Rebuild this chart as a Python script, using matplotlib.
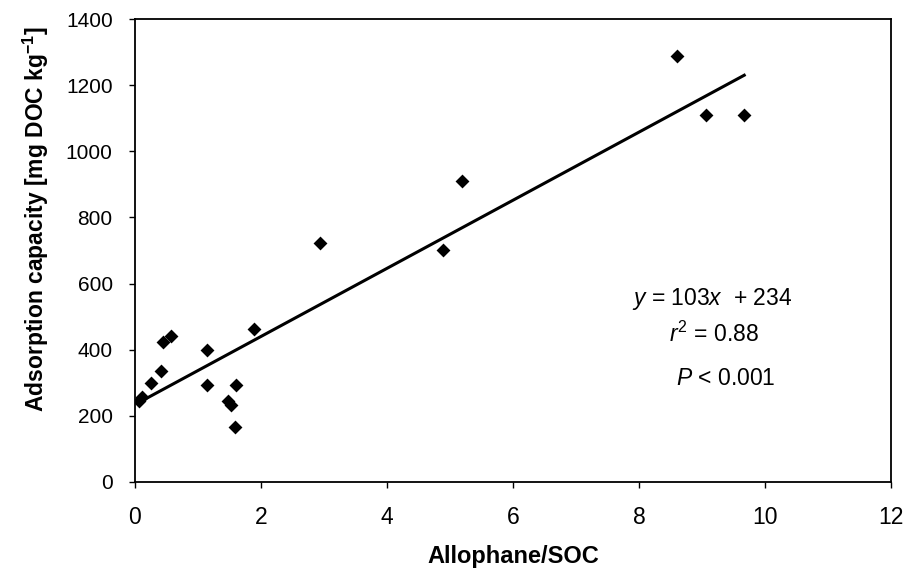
import matplotlib
matplotlib.use("Agg")
import matplotlib.pyplot as plt
import numpy as np

plt.rcParams['font.family'] = ['Liberation Sans', 'DejaVu Sans']
plt.rcParams['mathtext.fontset'] = 'custom'
plt.rcParams['mathtext.rm'] = 'Liberation Sans'
plt.rcParams['mathtext.it'] = 'Liberation Sans:italic'
plt.rcParams['mathtext.bf'] = 'Liberation Sans:bold'

# allophane/SOC ratio vs adsorption capacity (mg DOC / kg)
ratio = [0.06, 0.11, 0.25, 0.42, 0.44, 0.57, 1.15, 1.15, 1.47, 1.52, 1.60, 1.58,
         1.89, 2.94, 4.89, 5.19, 8.60, 9.06, 9.67]
capacity = [245, 256, 298, 336, 424, 442, 399, 293, 245, 232, 293, 165,
            462, 724, 701, 911, 1289, 1110, 1110]

slope = 103
intercept = 234

xticks = [0, 2, 4, 6, 8, 10, 12]
yticks = [0, 200, 400, 600, 800, 1000, 1200, 1400]

fig = plt.figure(figsize=(9.07, 5.71), dpi=100)
ax = fig.add_axes([0.1488, 0.1559, 0.8336, 0.8108])

ax.scatter(ratio, capacity, marker='D', s=50, color='black', zorder=3, linewidths=0)

xfit = np.array([min(ratio), max(ratio)])
ax.plot(xfit, slope * xfit + intercept, color='black', lw=2.2, zorder=2)

ax.set_xlim(0, 12)
ax.set_ylim(0, 1400)
ax.set_xticks(xticks)
ax.set_yticks(yticks)
ax.tick_params(axis='x', direction='out', length=4, width=1, labelsize=16.5, pad=13)
ax.tick_params(axis='y', direction='out', length=4, width=1, labelsize=15, pad=12)
for sp in ax.spines.values():
    sp.set_linewidth(1.3)
    sp.set_color('black')

ax.set_xlabel('Allophane/SOC', fontsize=17, fontweight='bold')
ax.xaxis.set_label_coords(0.5, -0.136)
ax.set_ylabel('Adsorption capacity [mg DOC kg$^{\\mathbf{-1}}$]', fontsize=16.5,
              fontweight='bold')
ax.yaxis.set_label_coords(-0.111, 0.568)

ax.text(9.16, 553, '$\\it{y}$ = 103$\\it{x}$  + 234', fontsize=16.5, ha='center', va='center')
ax.text(9.19, 446, '$\\it{r}^{2}$ = 0.88', fontsize=16.5, ha='center', va='center')
ax.text(9.37, 314, '$\\it{P}$ < 0.001', fontsize=16.5, ha='center', va='center')

fig.savefig('out.png', dpi=100)
